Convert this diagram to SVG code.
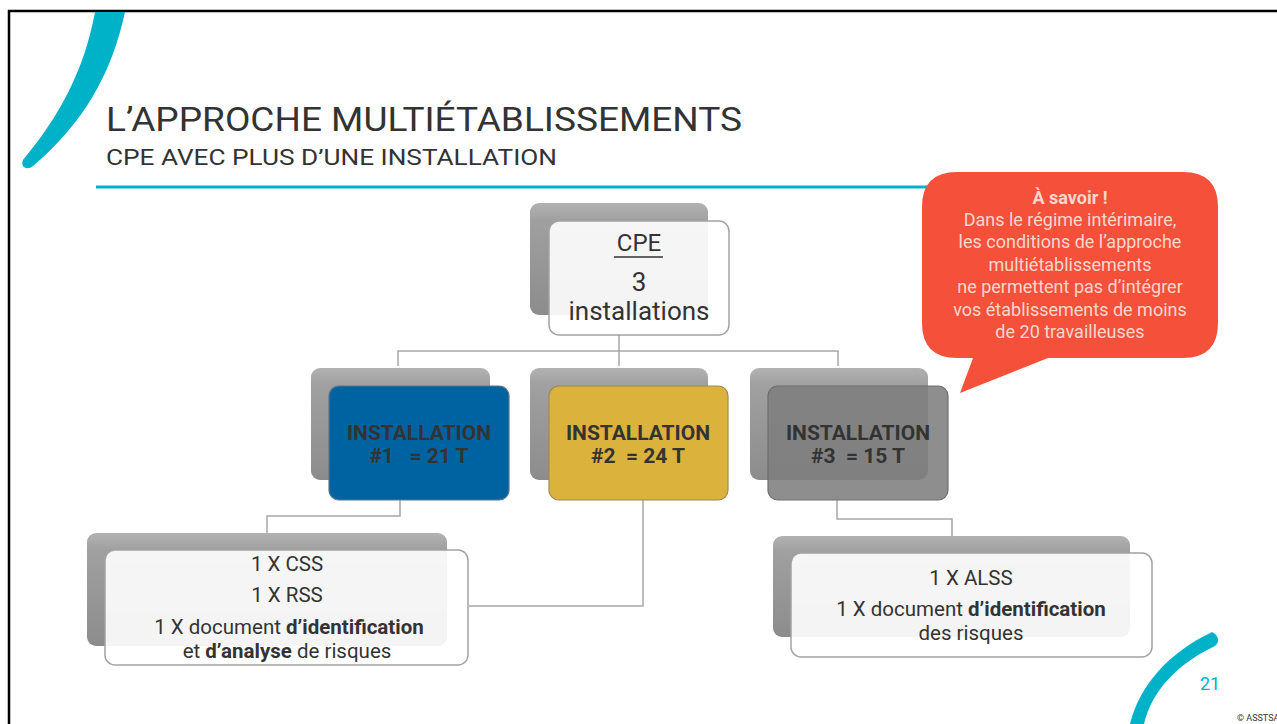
<svg xmlns="http://www.w3.org/2000/svg" width="1277" height="724" viewBox="0 0 1277 724">
<defs>
<linearGradient id="sh" x1="0" y1="0" x2="0" y2="1">
<stop offset="0" stop-color="#b2b2b2"/>
<stop offset="0.15" stop-color="#a0a0a0"/>
<stop offset="1" stop-color="#8c8c8c"/>
</linearGradient>
<style>
.shadow{fill:url(#sh);}
.card{fill:#ffffff;fill-opacity:0.9;stroke:#a3a3a3;stroke-width:1.5;}
.conn{fill:none;stroke:#a8a8a8;stroke-width:1.5;}
.t{font-family:"Roboto","Liberation Sans",sans-serif;fill:#333333;text-anchor:middle;}
.b{font-weight:bold;}
.ti{font-family:"Roboto","Liberation Sans",sans-serif;fill:#333333;}
.co{font-family:"Roboto","Liberation Sans",sans-serif;fill:#f7d6cf;text-anchor:middle;font-size:18px;}
</style>
</defs>
<rect x="0" y="0" width="1277" height="724" fill="#ffffff"/>
<path d="M9 724 V11 H1277" fill="none" stroke="#000" stroke-width="2.5"/>
<path d="M95 12 L125 12 C112 72 85 122 33 166 C27 171 20 167 23 160 C58 118 84 72 95 12 Z" fill="#00b2c8"/>
<g id="title">
<text class="ti" x="106" y="131" font-size="34" textLength="636" lengthAdjust="spacingAndGlyphs">L’APPROCHE MULTIÉTABLISSEMENTS</text>
<text class="ti" x="106" y="165" font-size="22" textLength="451" lengthAdjust="spacingAndGlyphs">CPE AVEC PLUS D’UNE INSTALLATION</text>
</g>
<rect x="96" y="185.5" width="840" height="3" fill="#00b2c8"/>
<g id="connectors">
<path class="conn" d="M619 335 V366 M398 366 V351 H838 V366"/>
<path class="conn" d="M400 500 V516 H267 V533"/>
<path class="conn" d="M643 500 V606 H469"/>
<path class="conn" d="M837 500 V519 H952 V536"/>
</g>
<g id="cpe">
<rect class="shadow" x="530" y="203" width="178" height="112" rx="9"/>
<rect class="card" x="549" y="221" width="180" height="114" rx="10"/>
<text class="t" x="639" y="251" font-size="24">CPE</text>
<line x1="614" y1="257" x2="663" y2="257" stroke="#333" stroke-width="1.3"/>
<text class="t" x="639" y="291" font-size="26">3</text>
<text class="t" x="639" y="320" font-size="26">installations</text>
</g>
<g id="installation1">
<rect class="shadow" x="311" y="368" width="179" height="112" rx="9"/>
<rect x="329" y="386" width="180" height="114" rx="10" fill="#0063a1" stroke="#5a7590" stroke-width="1.2"/>
<text class="t b" x="419" y="440" font-size="21">INSTALLATION</text>
<text class="t b" x="419" y="463" font-size="21" xml:space="preserve">#1   = 21 T</text>
</g>
<g id="installation2">
<rect class="shadow" x="530" y="368" width="178" height="112" rx="9"/>
<rect x="549" y="386" width="179" height="114" rx="10" fill="#dbb23c" stroke="#a08a50" stroke-width="1.2"/>
<text class="t b" x="638" y="440" font-size="21">INSTALLATION</text>
<text class="t b" x="638" y="463" font-size="21" xml:space="preserve">#2  = 24 T</text>
</g>
<g id="installation3">
<rect class="shadow" x="750" y="368" width="178" height="112" rx="9"/>
<rect x="768" y="386" width="180" height="114" rx="10" fill="#7e7e7e" fill-opacity="0.88" stroke="#6e6e6e" stroke-width="1.2"/>
<text class="t b" x="858" y="440" font-size="21">INSTALLATION</text>
<text class="t b" x="858" y="463" font-size="21" xml:space="preserve">#3  = 15 T</text>
</g>
<g id="details1">
<rect class="shadow" x="87" y="533" width="360" height="113" rx="9"/>
<rect class="card" x="105" y="550" width="363" height="115" rx="10"/>
<text class="t" x="287" y="571" font-size="20.5">1 X CSS</text>
<text class="t" x="287" y="602" font-size="20.5">1 X RSS</text>
<text class="t" x="289" y="634" font-size="20.5">1 X document <tspan class="b">d’identification</tspan></text>
<text class="t" x="287" y="658" font-size="20.5">et <tspan class="b">d’analyse</tspan> de risques</text>
</g>
<g id="details3">
<rect class="shadow" x="773" y="536" width="357" height="101" rx="9"/>
<rect class="card" x="791" y="553" width="361" height="104" rx="10"/>
<text class="t" x="971" y="585" font-size="20.5">1 X ALSS</text>
<text class="t" x="971" y="616" font-size="20.5">1 X document <tspan class="b">d’identification</tspan></text>
<text class="t" x="971" y="640" font-size="20.5">des risques</text>
</g>
<g id="callout">
<path d="M957 172 H1183 Q1218 172 1218 207 V323 Q1218 358 1183 358 H1048 L960 393 L973 358 H957 Q922 358 922 323 V207 Q922 172 957 172 Z" fill="#f5513a"/>
<text class="co b" x="1070" y="204">À savoir !</text>
<text class="co" x="1070" y="226">Dans le régime intérimaire,</text>
<text class="co" x="1070" y="248">les conditions de l’approche</text>
<text class="co" x="1070" y="271">multiétablissements</text>
<text class="co" x="1070" y="293">ne permettent pas d’intégrer</text>
<text class="co" x="1070" y="316">vos établissements de moins</text>
<text class="co" x="1070" y="338">de 20 travailleuses</text>
</g>
<path d="M1212 632 C1220 636 1220 644 1213 647 C1178 664 1152 690 1144 724 L1130 724 C1140 684 1170 652 1212 632 Z" fill="#00b2c8"/>
<text x="1210" y="690" font-family="Roboto,'Liberation Sans',sans-serif" font-size="18" fill="#00b2c8" text-anchor="middle">21</text>
<text x="1237" y="721" font-family="Roboto,'Liberation Sans',sans-serif" font-size="9" fill="#333">© ASSTSA</text>
</svg>
